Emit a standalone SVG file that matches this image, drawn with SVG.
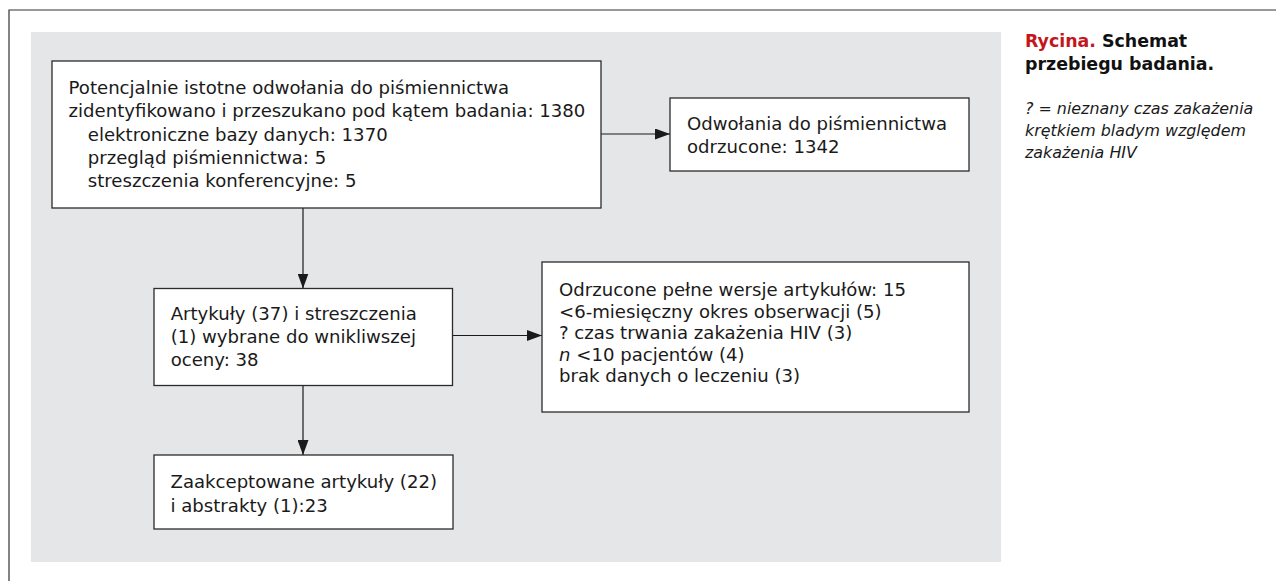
<svg xmlns="http://www.w3.org/2000/svg" width="1276" height="581" viewBox="0 0 1276 581">
<style>
.box{fill:#ffffff;stroke:#2b2b2b;stroke-width:1.3}
.t{font-family:"DejaVu Sans","Verdana",sans-serif;font-size:18.1px;fill:#1a1a1a}
.cap{font-family:"DejaVu Sans",sans-serif;font-size:17.4px;font-weight:bold;fill:#111}
.red{fill:#c4161c}
.note{font-family:"DejaVu Sans",sans-serif;font-size:15.9px;font-style:italic;fill:#1a1a1a}
.conn{stroke:#1a1a1a;stroke-width:1.2;fill:none}
</style>
<defs>
<marker id="arr" markerUnits="userSpaceOnUse" markerWidth="15" markerHeight="11" refX="15" refY="5.5" orient="auto">
<path d="M0,0 L15,5.5 L0,11 Z" fill="#1a1a1a"/>
</marker>
</defs>
<rect x="0" y="0" width="1276" height="581" fill="#ffffff"/>
<path d="M9,581 V10 H1276" fill="none" stroke="#333" stroke-width="1.2"/>
<rect x="31" y="32" width="970" height="530" fill="#e5e6e8"/>

<g id="connectors">
<line class="conn" x1="601" y1="134" x2="670" y2="134" marker-end="url(#arr)"/>
<line class="conn" x1="303" y1="208" x2="303" y2="288.5" marker-end="url(#arr)"/>
<line class="conn" x1="452.5" y1="335.5" x2="542" y2="335.5" marker-end="url(#arr)"/>
<line class="conn" x1="303" y1="385.5" x2="303" y2="455" marker-end="url(#arr)"/>
</g>

<g id="node-search">
<rect class="box" x="52" y="61" width="549" height="147"/>
<text class="t" x="68.6" y="94">Potencjalnie istotne odwołania do piśmiennictwa</text>
<text class="t" x="68.6" y="117.3">zidentyfikowano i przeszukano pod kątem badania: 1380</text>
<text class="t" x="87.8" y="140.6">elektroniczne bazy danych: 1370</text>
<text class="t" x="87.8" y="163.9">przegląd piśmiennictwa: 5</text>
<text class="t" x="87.8" y="187.2">streszczenia konferencyjne: 5</text>
</g>

<g id="node-rejected-refs">
<rect class="box" x="670" y="98" width="299" height="73"/>
<text class="t" x="687" y="130">Odwołania do piśmiennictwa</text>
<text class="t" x="687" y="153">odrzucone: 1342</text>
</g>

<g id="node-selected">
<rect class="box" x="154" y="288.5" width="298.5" height="97"/>
<text class="t" x="170.7" y="320">Artykuły (37) i streszczenia</text>
<text class="t" x="170.7" y="343">(1) wybrane do wnikliwszej</text>
<text class="t" x="170.7" y="366">oceny: 38</text>
</g>

<g id="node-rejected-full">
<rect class="box" x="542" y="262" width="427" height="150"/>
<text class="t" x="559" y="296">Odrzucone pełne wersje artykułów: 15</text>
<text class="t" x="559" y="317.5">&lt;6-miesięczny okres obserwacji (5)</text>
<text class="t" x="559" y="339">? czas trwania zakażenia HIV (3)</text>
<text class="t" x="559" y="360.5"><tspan font-style="italic">n</tspan> &lt;10 pacjentów (4)</text>
<text class="t" x="559" y="382">brak danych o leczeniu (3)</text>
</g>

<g id="node-accepted">
<rect class="box" x="154" y="455" width="299" height="74"/>
<text class="t" x="170.5" y="488">Zaakceptowane artykuły (22)</text>
<text class="t" x="170.5" y="511.5">i abstrakty (1):23</text>
</g>

<g id="caption">
<text class="cap" x="1025" y="46.7"><tspan class="red">Rycina.</tspan> Schemat</text>
<text class="cap" x="1025" y="70">przebiegu badania.</text>
<text class="note" x="1025" y="114">? = nieznany czas zakażenia</text>
<text class="note" x="1025" y="136">krętkiem bladym względem</text>
<text class="note" x="1025" y="157.5">zakażenia HIV</text>
</g>
</svg>
